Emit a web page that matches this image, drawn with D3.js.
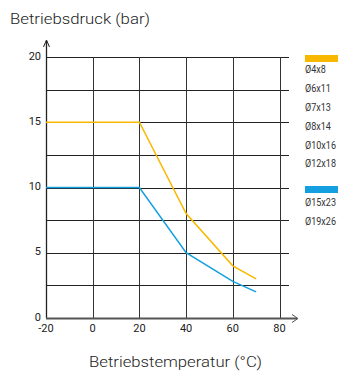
<!DOCTYPE html>
<html><head><meta charset="utf-8">
<script src="https://cdn.jsdelivr.net/npm/d3@7"></script>
<style>body{margin:0;background:#fff}svg{display:block}text{font-family:Roboto,"DejaVu Sans",sans-serif}</style>
</head><body>
<script>
const xTicks = [-20, 0, 20, 40, 60, 80];
const yTicks = [0, 5, 10, 15, 20];
const yGrid = [2.5, 5, 7.5, 10, 12.5, 15, 17.5, 20];
const xGrid = [0, 20, 40, 60, 80];
const temps = [-20, 20, 40, 60, 70];
const yellowValues = [15, 15, 8, 4, 3];
const blueValues = [10, 10, 5, 2.8, 2];
const yellowLabels = ["Ø4x8", "Ø6x11", "Ø7x13", "Ø8x14", "Ø10x16", "Ø12x18"];
const blueLabels = ["Ø15x23", "Ø19x26"];
const yellow = "#f9b800", blue = "#14a0e0";

const W = 339, H = 372;
const svg = d3.select("body").append("svg").attr("width", W).attr("height", H);
const x = d3.scaleLinear().domain([-20, 80]).range([46, 279.5]);
const y = d3.scaleLinear().domain([0, 20]).range([318, 57]);

// grid
svg.append("g").selectAll("line").data(yGrid).join("line")
  .attr("x1", x(-20)).attr("x2", 289).attr("y1", d => Math.round(y(d)) + 0.5).attr("y2", d => Math.round(y(d)) + 0.5)
  .attr("stroke", "#222").attr("stroke-width", 1);
svg.append("g").selectAll("line").data(xGrid).join("line")
  .attr("x1", d => Math.round(x(d)) + 0.5).attr("x2", d => Math.round(x(d)) + 0.5).attr("y1", y(20)).attr("y2", y(0))
  .attr("stroke", "#333").attr("stroke-width", 1);

// axes
svg.append("line").attr("x1", 46.5).attr("x2", 46.5).attr("y1", y(0)).attr("y2", 41).attr("stroke", "#222").attr("stroke-width", 1.3);
svg.append("path").attr("d", "M43.5,47 L46.5,40 L49.5,47").attr("fill", "none").attr("stroke", "#222").attr("stroke-width", 1);
svg.append("line").attr("x1", 46).attr("x2", 297).attr("y1", 318.5).attr("y2", 318.5).attr("stroke", "#555").attr("stroke-width", 2);
svg.append("path").attr("d", "M292,314.5 L298,318.5 L292,322.5").attr("fill", "none").attr("stroke", "#555").attr("stroke-width", 1);

// tick labels
svg.append("g").selectAll("text").data(yTicks).join("text")
  .attr("x", 41).attr("y", d => y(d) + 2.5).attr("text-anchor", "end")
  .attr("font-size", 11).attr("fill", "#222").text(d => d);
svg.append("g").selectAll("text").data(xTicks).join("text")
  .attr("x", d => x(d)).attr("y", 331.5).attr("text-anchor", "middle")
  .attr("font-size", 11).attr("fill", "#222").text(d => d);

// lines
const line = d3.line().x(d => x(d[0])).y(d => y(d[1]));
svg.append("path").datum(temps.map((t, i) => [t, yellowValues[i]])).attr("d", line)
  .attr("fill", "none").attr("stroke", yellow).attr("stroke-width", 1.5);
svg.append("path").datum(temps.map((t, i) => [t, blueValues[i]])).attr("d", line)
  .attr("fill", "none").attr("stroke", blue).attr("stroke-width", 1.5);

// titles
svg.append("text").attr("x", 10).attr("y", 24).attr("font-size", 15.5).attr("font-weight", 300).attr("fill", "#222")
  .attr("textLength", 140).attr("lengthAdjust", "spacingAndGlyphs").text("Betriebsdruck (bar)");
svg.append("text").attr("x", 89).attr("y", 367).attr("font-size", 15.5).attr("font-weight", 300).attr("fill", "#222")
  .attr("textLength", 173).attr("lengthAdjust", "spacingAndGlyphs").text("Betriebstemperatur (°C)");

// legend
const legFont = 10.5, legScale = 0.86;
svg.append("rect").attr("x", 305).attr("y", 55).attr("width", 33).attr("height", 7).attr("fill", yellow);
svg.append("g").attr("transform", `translate(305,0) scale(${legScale},1)`).selectAll("text").data(yellowLabels).join("text")
  .attr("x", 0).attr("y", (d, i) => 73.5 + i * 18.8).attr("font-size", legFont).attr("fill", "#333").text(d => d);
svg.append("rect").attr("x", 305).attr("y", 186).attr("width", 33).attr("height", 7).attr("fill", blue);
svg.append("g").attr("transform", `translate(305,0) scale(${legScale},1)`).selectAll("text").data(blueLabels).join("text")
  .attr("x", 0).attr("y", (d, i) => 206.5 + i * 18.8).attr("font-size", legFont).attr("fill", "#333").text(d => d);
</script>
</body></html>
